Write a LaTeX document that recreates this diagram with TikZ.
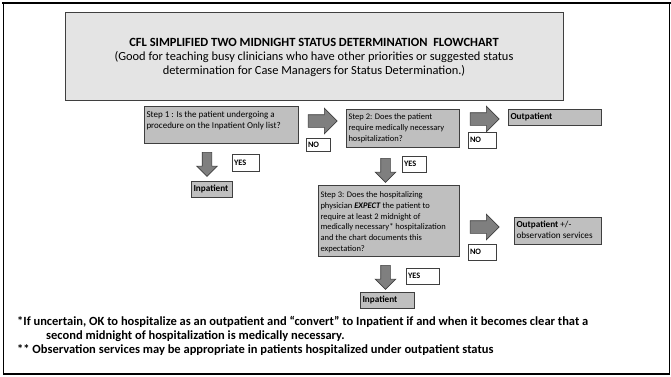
\documentclass[tikz,border=0pt]{standalone}
\usepackage{fontspec}
\setmainfont{Carlito}
\usetikzlibrary{shapes.arrows}
\definecolor{titlebgcolor}{HTML}{E4E4E4}
\definecolor{stepbgcolor}{HTML}{BFBFBF}
\definecolor{arrowcolor}{HTML}{7F7F7F}
\definecolor{edgecolor}{HTML}{3F3F3F}
\newcommand{\cell}[3]{\parbox[c][#2][t]{#1}{\raggedright #3}}
\newcommand{\answercell}[3]{\parbox[c][#2][c]{#1}{\raggedright #3}}

\tikzset{
        stepbox/.style={draw=edgecolor, fill=stepbgcolor, line width=0.8pt, inner xsep=2.5pt, inner ysep=5pt,
                font=\fontsize{9}{11.3}\selectfont},
        answerbox/.style={draw=edgecolor, fill=white, line width=0.8pt, inner sep=2pt,
                font=\bfseries\fontsize{8.3}{10}\selectfont},
        blockright/.style={single arrow, draw=edgecolor, fill=arrowcolor, line width=0.6pt,
                inner sep=6pt, single arrow head extend=6.5pt, minimum height=29pt},
        blockdown/.style={blockright, shape border rotate=270, inner sep=4.5pt,
                single arrow head extend=5.5pt, minimum height=24pt}
}

\begin{document}
\begin{tikzpicture}[x=1pt, y=-1pt]
        \useasboundingbox (0,0) rectangle (671,376);
        \draw [line width=1.4pt] (3.5,3) rectangle (669.5,374);
        \draw [line width=2.6pt] (2.2,3) -- (670.8,3);

        \node (T) [draw=edgecolor, fill=titlebgcolor, line width=0.8pt, minimum width=498pt,
                minimum height=88pt] at (314,56) {};
        \node (Ttext) [inner sep=0pt, align=center, font=\fontsize{12.4}{14}\selectfont]
                at (314,57) {{\bfseries\fontsize{12.5}{14}\selectfont CFL SIMPLIFIED TWO MIDNIGHT STATUS DETERMINATION\ \ FLOWCHART}\\
                (Good for teaching busy clinicians who have other priorities or suggested status\\
                determination for Case Managers for Status Determination.)};

        \node (step1) [stepbox] at (221,124.5) {\cell{149pt}{27pt}{Step 1 : Is the patient undergoing a\\
                procedure on the Inpatient Only list?}};
        \node (right1) [blockright] at (319.5,121) {};
        \node (no1) [answerbox] at (318,144.5) {\answercell{20pt}{9pt}{NO}};
        \node (step2) [stepbox, inner ysep=4.5pt, font=\fontsize{8.5}{11}\selectfont] at (402.5,128)
                {\cell{108pt}{29pt}{Step 2: Does the patient\\ require medically necessary\\ hospitalization?}};
        \node (right2) [blockright] at (481.5,119) {};
        \node (no2) [answerbox] at (482,140) {\answercell{24pt}{12pt}{NO}};
        \node (outp1) [stepbox, inner ysep=3pt, font=\bfseries\fontsize{9.2}{11}\selectfont] at (554.5,117)
                {\answercell{88pt}{10pt}{Outpatient}};

        \node (down1) [blockdown] at (207,162) {};
        \node (yes1) [answerbox] at (245.5,162.5) {\answercell{23pt}{13pt}{YES}};
        \node (inp1) [stepbox, inner ysep=3pt, font=\bfseries\fontsize{9.2}{11}\selectfont] at (211.5,189)
                {\answercell{36pt}{10pt}{Inpatient}};

        \node (down2) [blockdown] at (385.5,168) {};
        \node (yes2) [answerbox] at (414,164) {\answercell{20pt}{12pt}{YES}};
        \node (step3) [stepbox, inner ysep=6.5pt, font=\fontsize{8.5}{10.8}\selectfont] at (388.5,220.5)
                {\cell{136pt}{58pt}{Step 3: Does the hospitalizing\\
                physician \textbf{\itshape EXPECT} the patient to\\ require at least 2 midnight of\\
                medically necessary* hospitalization\\ and the chart documents this\\ expectation?}};
        \node (right3) [blockright] at (481.5,227) {};
        \node (no3) [answerbox] at (482,252) {\answercell{24pt}{12pt}{NO}};
        \node (outp2) [stepbox, inner ysep=4pt, font=\fontsize{9.2}{11}\selectfont] at (557.5,230.5)
                {\cell{82pt}{19pt}{\textbf{Outpatient} +/-\\ observation services}};

        \node (down3) [blockdown] at (385.5,275) {};
        \node (yes3) [answerbox] at (422.5,276) {\answercell{29pt}{12pt}{YES}};
        \node (inp3) [stepbox, inner ysep=3pt, font=\bfseries\fontsize{9.2}{11}\selectfont] at (387,300)
                {\answercell{49pt}{10pt}{Inpatient}};

        \node (note1) [anchor=west, inner sep=0pt, font=\bfseries\fontsize{12.5}{14}\selectfont] at (17,322)
                {*If uncertain, OK to hospitalize as an outpatient and “convert” to Inpatient if and when it becomes clear that a};
        \node (note2) [anchor=west, inner sep=0pt, font=\bfseries\fontsize{12.5}{14}\selectfont] at (46,336)
                {second midnight of hospitalization is medically necessary.};
        \node (note3) [anchor=west, inner sep=0pt, font=\bfseries\fontsize{12.5}{14}\selectfont] at (17,350)
                {** Observation services may be appropriate in patients hospitalized under outpatient status};
\end{tikzpicture}
\end{document}
